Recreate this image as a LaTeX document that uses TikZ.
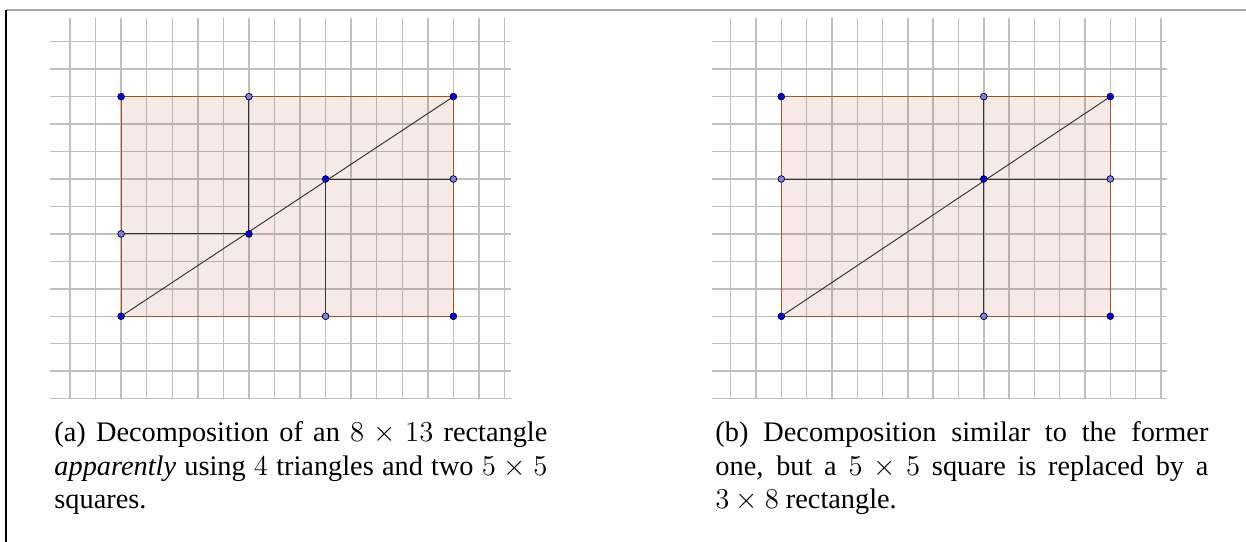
\documentclass[tikz,border=0pt]{standalone}
\usepackage{fontspec}
\setmainfont{Liberation Serif}
\usetikzlibrary{positioning}
\definecolor{ggbrown}{RGB}{153,51,0}
\definecolor{ptdark}{RGB}{0,0,255}
\definecolor{ptlight}{RGB}{125,125,255}

\begin{document}
\begin{tikzpicture}[x=0.3744cm, y=0.4022cm,
  gridline/.style={draw=gray!50, line width=0.6pt},
  polyfill/.style={fill=ggbrown, fill opacity=0.1},
  polyedge/.style={draw=ggbrown!85, line width=0.45pt},
  segline/.style={draw=black!80, line width=0.4pt},
  pt/.style={circle, draw=black, line width=0.3pt, inner sep=0pt, minimum size=2.8pt},
  darkpt/.style={pt, fill=ptdark},
  lightpt/.style={pt, fill=ptlight},
  caption/.style={anchor=base west, inner sep=0pt, align=justify, text width=7.22cm,
    font=\fontsize{11.8}{14.1}\selectfont}
]
\useasboundingbox (-2.7387,-5.2185) rectangle (46.01,14.519);

% Frame of the page
\coordinate (frameTL) at (-2.504,14.155);
\coordinate (frameTR) at (46.01,14.155);
\coordinate (frameBL) at (-2.504,-5.2185);
\draw[gray!70, line width=0.5pt] (frameTL) -- (frameTR);
\draw[black, line width=0.6pt] (frameTL) -- (frameBL);

% Panel (a): 8 x 13 rectangle, two squares
\begin{scope}
  \foreach \i in {0,...,17} \draw[gridline] (\i,0) -- (\i,13.86);
  \foreach \j in {0,...,13} \draw[gridline] (-0.78,\j) -- (17.25,\j);
  \coordinate (aBL) at (2,3);
  \coordinate (aBM) at (10,3);
  \coordinate (aBR) at (15,3);
  \coordinate (aML) at (2,6);
  \coordinate (aMC) at (7,6);
  \coordinate (aMD) at (10,8);
  \coordinate (aMR) at (15,8);
  \coordinate (aTL) at (2,11);
  \coordinate (aTM) at (7,11);
  \coordinate (aTR) at (15,11);
  \fill[polyfill] (aBL) rectangle (aTR);
  \draw[polyedge] (aBL) -- (aBR) -- (aTR) -- (aTL) -- cycle;
  \draw[segline] (aBL) -- (aTR);
  \draw[segline] (aTM) -- (aMC);
  \draw[segline] (aML) -- (aMC);
  \draw[segline] (aMD) -- (aMR);
  \draw[segline] (aMD) -- (aBM);
  \foreach \p in {aBL,aBR,aMC,aMD,aTL,aTR} \node[darkpt] (pt-\p) at (\p) {};
  \foreach \p in {aBM,aML,aMR,aTM} \node[lightpt] (pt-\p) at (\p) {};
\end{scope}

% Panel (b): one square replaced by a 3 x 8 rectangle
\begin{scope}[shift={(25.849,0)}, xscale=0.9902]
  \foreach \i in {0,...,17} \draw[gridline] (\i,0) -- (\i,13.86);
  \foreach \j in {0,...,13} \draw[gridline] (-0.75,\j) -- (17.25,\j);
  \coordinate (bBL) at (2,3);
  \coordinate (bBM) at (10,3);
  \coordinate (bBR) at (15,3);
  \coordinate (bML) at (2,8);
  \coordinate (bMC) at (10,8);
  \coordinate (bMR) at (15,8);
  \coordinate (bTL) at (2,11);
  \coordinate (bTM) at (10,11);
  \coordinate (bTR) at (15,11);
  \fill[polyfill] (bBL) rectangle (bTR);
  \draw[polyedge] (bBL) -- (bBR) -- (bTR) -- (bTL) -- cycle;
  \draw[segline] (bBL) -- (bTR);
  \draw[segline] (bML) -- (bMR);
  \draw[segline] (bTM) -- (bBM);
  \foreach \p in {bBL,bBR,bMC,bTL,bTR} \node[darkpt] (pt-\p) at (\p) {};
  \foreach \p in {bBM,bML,bMR,bTM} \node[lightpt] (pt-\p) at (\p) {};
\end{scope}

% Captions
\node[caption] (capA) at (-0.626,-1.55)
  {(a) Decomposition of an $8\times 13$ rectangle\linebreak
   \emph{apparently} using $4$ triangles and two $5\times 5$\linebreak
   squares.};
\node[caption] (capB) at (25.235,-1.55)
  {(b) Decomposition similar to the former\linebreak
   one, but a $5\times 5$ square is replaced by a\linebreak
   $3\times 8$ rectangle.};

\end{tikzpicture}
\end{document}
